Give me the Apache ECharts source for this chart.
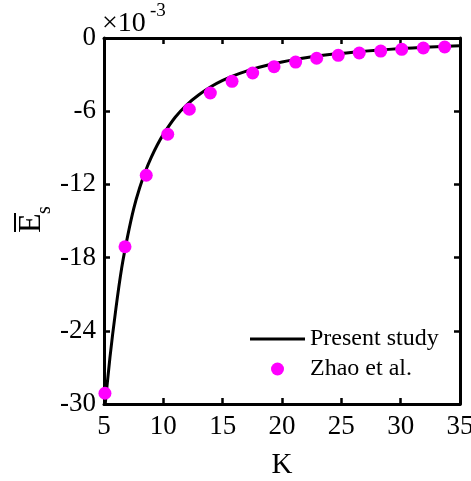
<!DOCTYPE html>
<html>
<head>
<meta charset="utf-8">
<script src="https://cdn.jsdelivr.net/npm/echarts@6/dist/echarts.min.js"></script>
<style>
  html, body { margin: 0; padding: 0; background: #fff; }
  #chart { width: 471px; height: 481px; }
</style>
</head>
<body>
<div id="chart"></div>
<script>
// Strain energy E_s (in units of 1e-3) versus K
const xTicks = [5, 10, 15, 20, 25, 30, 35];
const yTicks = [0, -6, -12, -18, -24, -30];

// Present study: continuous curve
const presentK = [5.0, 5.5, 6.0, 6.5, 7.0, 7.5, 8.0, 8.5, 9.0, 9.5, 10.0, 11.0, 12.0, 13.0, 14.0,
                  15.0, 16.0, 17.0, 18.0, 19.0, 20.0, 22.0, 24.0, 26.0, 28.0, 30.0, 32.0, 34.0, 35.0];
const presentEs = [-31.0, -26.2, -22.2, -18.8, -16.2, -14.0, -12.3, -10.9, -9.75, -8.75, -7.9, -6.5, -5.45, -4.65, -4.0,
                   -3.48, -3.06, -2.71, -2.42, -2.17, -1.96, -1.62, -1.36, -1.16, -1.0, -0.87, -0.76, -0.67, -0.63];

// Zhao et al.: discrete results
const zhaoK = [5.08, 6.77, 8.56, 10.37, 12.19, 13.96, 15.79, 17.53, 19.33, 21.15, 22.92, 24.74, 26.51, 28.32, 30.09, 31.91, 33.71];
const zhaoEs = [-29.12, -17.11, -11.25, -7.89, -5.84, -4.51, -3.55, -2.87, -2.35, -1.97, -1.66, -1.42, -1.23, -1.07, -0.93, -0.82, -0.74];

const serif = 'Liberation Serif';

const chart = echarts.init(document.getElementById('chart'), null, { renderer: 'canvas' });

const xMin = xTicks[0], xMax = xTicks[xTicks.length - 1], xStep = xTicks[1] - xTicks[0];
const yMin = yTicks[yTicks.length - 1], yMax = yTicks[0], yStep = yTicks[0] - yTicks[1];

const axisCommon = {
  axisLine: { show: true, onZero: false, lineStyle: { color: '#000', width: 3 } },
  axisTick: { show: true, inside: true, length: 6, lineStyle: { color: '#000', width: 2.5 } },
  splitLine: { show: false }
};

chart.setOption({
  animation: false,
  backgroundColor: '#fff',
  textStyle: { fontFamily: serif, color: '#000' },
  grid: { left: 104, right: 11, top: 38, bottom: 77, containLabel: false, outerBoundsMode: 'none' },
  xAxis: [
    Object.assign({
      type: 'value', position: 'bottom', min: xMin, max: xMax, interval: xStep,
      name: 'K', nameLocation: 'middle', nameGap: 47,
      nameTextStyle: { fontFamily: serif, fontSize: 29, color: '#000' },
      axisLabel: { show: true, margin: 9, fontFamily: serif, fontSize: 27, color: '#000' }
    }, axisCommon),
    Object.assign({
      type: 'value', position: 'top', min: xMin, max: xMax, interval: xStep,
      axisLabel: { show: false }
    }, axisCommon)
  ],
  yAxis: [
    Object.assign({
      type: 'value', position: 'left', min: yMin, max: yMax, interval: yStep,
      axisLabel: { show: true, margin: 8, fontFamily: serif, fontSize: 27, color: '#000' }
    }, axisCommon),
    Object.assign({
      type: 'value', position: 'right', min: yMin, max: yMax, interval: yStep,
      axisLabel: { show: false }
    }, axisCommon)
  ],
  legend: {
    orient: 'vertical',
    left: 250, top: 327,
    padding: 0,
    itemGap: 6,
    itemWidth: 55, itemHeight: 13,
    symbolKeepAspect: true,
    textStyle: { fontFamily: serif, fontSize: 24, color: '#000', lineHeight: 24 },
    data: [
      { name: 'Present study', icon: 'path://M0,0H110V6H0Z' },
      { name: 'Zhao et al.', icon: 'circle' }
    ]
  },
  series: [
    {
      name: 'Present study',
      type: 'line',
      data: presentK.map((k, i) => [k, presentEs[i]]),
      smooth: 0.3,
      symbol: 'none',
      clip: true,
      lineStyle: { color: '#000', width: 3 },
      itemStyle: { color: '#000' },
      z: 2
    },
    {
      name: 'Zhao et al.',
      type: 'scatter',
      data: zhaoK.map((k, i) => [k, zhaoEs[i]]),
      symbol: 'circle',
      symbolSize: 13,
      itemStyle: { color: '#ff00ff', opacity: 1 },
      clip: false,
      z: 3
    }
  ],
  graphic: [
    // axis multiplier
    {
      type: 'text', left: 102, top: 10,
      style: { text: '×10', fontFamily: serif, fontSize: 28, fill: '#000' }
    },
    {
      type: 'text', left: 150, top: 2,
      style: { text: '-3', fontFamily: serif, fontSize: 19, fill: '#000' }
    },
    // y axis title: E with overbar and subscript s, reading bottom to top
    {
      type: 'group',
      x: 43, y: 233,
      rotation: Math.PI / 2,
      children: [
        {
          type: 'text', x: 0, y: -11,
          style: { text: 'E', fontFamily: serif, fontSize: 32, fill: '#000', align: 'left', verticalAlign: 'middle' }
        },
        {
          type: 'rect',
          shape: { x: 1, y: -29, width: 19, height: 2 },
          style: { fill: '#000' }
        },
        {
          type: 'text', x: 19, y: 2,
          style: { text: 's', fontFamily: serif, fontSize: 20, fill: '#000', align: 'left', verticalAlign: 'middle' }
        }
      ]
    }
  ]
});
</script>
</body>
</html>
